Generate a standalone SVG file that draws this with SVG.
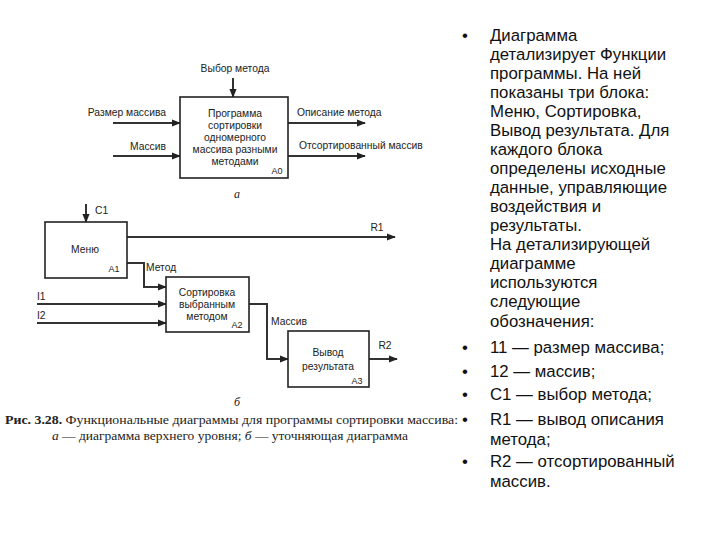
<svg xmlns="http://www.w3.org/2000/svg" width="720" height="540" viewBox="0 0 720 540">
<defs>
<marker id="ah" viewBox="0 0 10 10" refX="9" refY="5" markerWidth="4.5" markerHeight="4.5" orient="auto" markerUnits="strokeWidth">
<path d="M0,1 L10,5 L0,9 z" fill="#222"/>
</marker>
<style>
.box{fill:#fff;stroke:#222;stroke-width:1.6}
.c{fill:none;stroke:#333;stroke-width:2;marker-end:url(#ah)}
.t{font-family:"Liberation Sans",Arial,sans-serif;font-size:10.3px;fill:#222}
.m{text-anchor:middle}
.it{font-family:"Liberation Serif",serif;font-style:italic;font-size:12px;fill:#222;text-anchor:middle}
.cap{font-family:"Liberation Serif",serif;font-size:11.5px;fill:#222}
.r{font-family:"Liberation Sans",Arial,sans-serif;font-size:16.8px;fill:#111}
</style>
</defs>
<rect width="720" height="540" fill="#fff"/>

<g id="connectors">
<line class="c" x1="233" y1="78" x2="233" y2="97"/>
<line class="c" x1="113" y1="123" x2="180" y2="123"/>
<line class="c" x1="113" y1="156" x2="180" y2="156"/>
<line class="c" x1="288" y1="123" x2="365" y2="123"/>
<line class="c" x1="288" y1="156" x2="365" y2="156"/>
<line class="c" x1="86" y1="204" x2="86" y2="222"/>
<line class="c" x1="127" y1="237" x2="395" y2="237"/>
<path class="c" d="M127,263 H144 V287 H166"/>
<line class="c" x1="37" y1="304" x2="166" y2="304"/>
<line class="c" x1="37" y1="323" x2="166" y2="323"/>
<path class="c" d="M249,304 H267 V359 H288"/>
<line class="c" x1="369" y1="359" x2="397" y2="359"/>
</g>

<g id="labels">
<text class="t m" x="235" y="72">Выбор метода</text>
<text class="t" x="166" y="116" text-anchor="end">Размер массива</text>
<text class="t" x="166" y="150" text-anchor="end">Массив</text>
<text class="t" x="297" y="116">Описание метода</text>
<text class="t" x="299" y="149">Отсортированный массив</text>
<text class="it" x="237" y="198">а</text>
<text class="t" x="95" y="214">C1</text>
<text class="t m" x="377" y="231">R1</text>
<text class="t" x="146" y="271">Метод</text>
<text class="t" x="37" y="300">I1</text>
<text class="t" x="37" y="319">I2</text>
<text class="t" x="271" y="325">Массив</text>
<text class="t m" x="385" y="349">R2</text>
<text class="it" x="237" y="406">б</text>
</g>

<g id="A0">
<rect class="box" x="180" y="97" width="108" height="81"/>
<text class="t m" x="235" y="117">Программа</text>
<text class="t m" x="235" y="129">сортировки</text>
<text class="t m" x="235" y="141">одномерного</text>
<text class="t m" x="235" y="153">массива разными</text>
<text class="t m" x="235" y="165">методами</text>
<text class="t m" x="277" y="174" style="font-size:9px">A0</text>
</g>

<g id="A1">
<rect class="box" x="45" y="222" width="82" height="56"/>
<text class="t m" x="85" y="253">Меню</text>
<text class="t m" x="114" y="272" style="font-size:9px">A1</text>
</g>

<g id="A2">
<rect class="box" x="166" y="277" width="83" height="55"/>
<text class="t m" x="207" y="296">Сортировка</text>
<text class="t m" x="207" y="308">выбранным</text>
<text class="t m" x="207" y="320">методом</text>
<text class="t m" x="237" y="328" style="font-size:9px">A2</text>
</g>

<g id="A3">
<rect class="box" x="288" y="331" width="81" height="56"/>
<text class="t m" x="328" y="356">Вывод</text>
<text class="t m" x="328" y="370">результата</text>
<text class="t m" x="357" y="384" style="font-size:9px">A3</text>
</g>

<g id="caption">
<text class="cap" x="5" y="424" textLength="453" lengthAdjust="spacingAndGlyphs"><tspan font-weight="bold">Рис. 3.28.</tspan> Функциональные диаграммы для программы сортировки массива:</text>
<text class="cap" x="52" y="440" textLength="356" lengthAdjust="spacingAndGlyphs"><tspan font-style="italic">а</tspan> — диаграмма верхнего уровня; <tspan font-style="italic">б</tspan> — уточняющая диаграмма</text>
</g>

<g id="text">
<text class="r" x="462" y="41">•</text>
<text class="r" x="490" y="41">Диаграмма</text>
<text class="r" x="490" y="60">детализирует Функции</text>
<text class="r" x="490" y="79">программы. На ней</text>
<text class="r" x="490" y="98">показаны три блока:</text>
<text class="r" x="490" y="117">Меню,  Сортировка,</text>
<text class="r" x="490" y="136">Вывод результата. Для</text>
<text class="r" x="490" y="155">каждого блока</text>
<text class="r" x="490" y="174">определены исходные</text>
<text class="r" x="490" y="193">данные, управляющие</text>
<text class="r" x="490" y="212">воздействия и</text>
<text class="r" x="490" y="231">результаты.</text>
<text class="r" x="490" y="250">На  детализирующей</text>
<text class="r" x="490" y="269">диаграмме</text>
<text class="r" x="490" y="288">используются</text>
<text class="r" x="490" y="307">следующие</text>
<text class="r" x="490" y="327">обозначения:</text>
<text class="r" x="462" y="353">•</text>
<text class="r" x="490" y="353">11 — размер массива;</text>
<text class="r" x="462" y="377">•</text>
<text class="r" x="490" y="377">12 — массив;</text>
<text class="r" x="462" y="400">•</text>
<text class="r" x="490" y="400">C1 — выбор метода;</text>
<text class="r" x="462" y="425">•</text>
<text class="r" x="490" y="425">R1 — вывод описания</text>
<text class="r" x="490" y="445">метода;</text>
<text class="r" x="462" y="467">•</text>
<text class="r" x="490" y="467">R2 — отсортированный</text>
<text class="r" x="490" y="487">массив.</text>
</g>
</svg>
